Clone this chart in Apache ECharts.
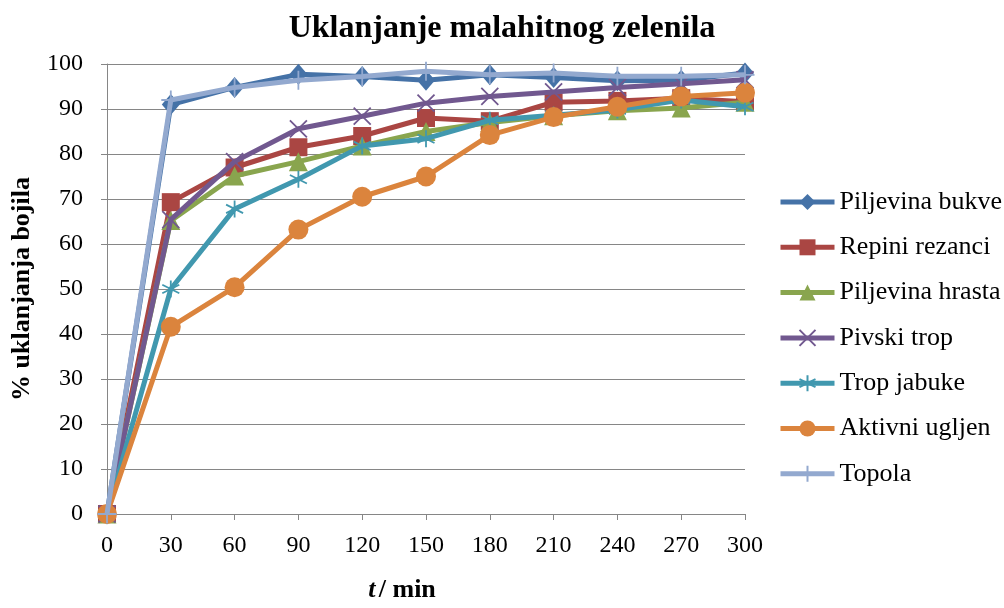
<!DOCTYPE html>
<html><head><meta charset="utf-8">
<script src="https://cdn.jsdelivr.net/npm/echarts@6/dist/echarts.min.js"></script>
<style>html,body{margin:0;padding:0;background:#fff}#c{width:1004px;height:608px}</style>
</head><body><div id="c"></div>
<script>
const times = [0, 30, 60, 90, 120, 150, 180, 210, 240, 270, 300];
const piljevinaBukve   = [0, 91.0, 94.8, 97.7, 97.2, 96.4, 97.6, 97.0, 96.3, 96.4, 98.0];
const repiniRezanci    = [0, 69.3, 77.0, 81.5, 84.0, 88.0, 87.3, 91.5, 91.8, 92.4, 91.6];
const piljevinaHrasta  = [0, 65.2, 75.1, 78.3, 81.8, 85.0, 87.0, 88.5, 89.6, 90.2, 91.5];
const pivskiTrop       = [0, 65.4, 78.3, 85.6, 88.4, 91.3, 92.8, 93.8, 94.8, 95.6, 96.5];
const tropJabuke       = [0, 50.0, 67.8, 74.4, 81.8, 83.4, 87.5, 88.6, 89.8, 92.0, 90.5];
const aktivniUgljen    = [0, 41.6, 50.4, 63.2, 70.5, 75.0, 84.2, 88.2, 90.5, 92.8, 93.6];
const topola           = [0, 92.0, 94.8, 96.4, 97.2, 98.4, 97.6, 98.0, 97.3, 97.3, 97.6];
const yTicks = [0, 10, 20, 30, 40, 50, 60, 70, 80, 90, 100];
const seriesNames = ['Piljevina bukve', 'Repini rezanci', 'Piljevina hrasta', 'Pivski trop', 'Trop jabuke', 'Aktivni ugljen', 'Topola'];

const FONT = '"Liberation Serif", "Times New Roman", serif';
const colors = ['#4572A7', '#AA4643', '#89A54E', '#71588F', '#4198AF', '#DB843D', '#93A9CF'];
const X_PATH = 'path://M0 0L10 10M10 0L0 10';
const STAR_PATH = 'path://M5 0L5 10M0 2.5L10 7.5M10 2.5L0 7.5';
const PLUS_PATH = 'path://M5 0L5 10M0 5L10 5';
const symbols = ['diamond', 'rect', 'triangle', X_PATH, STAR_PATH, 'circle', PLUS_PATH];
const sizes = [[18, 21], 18, 19, 17, 17, 20, 19];
const dataArr = [piljevinaBukve, repiniRezanci, piljevinaHrasta, pivskiTrop, tropJabuke, aktivniUgljen, topola];

const series = seriesNames.map((name, i) => {
  const stroked = i === 3 || i === 4 || i === 6;
  return {
    name,
    type: 'line',
    data: times.map((t, k) => [t, dataArr[i][k]]),
    symbol: symbols[i],
    symbolSize: sizes[i],
    showAllSymbol: true,
    lineStyle: { color: colors[i], width: 5 },
    itemStyle: stroked
      ? { color: 'rgba(0,0,0,0)', borderColor: colors[i], borderWidth: 1.8 }
      : { color: colors[i], borderWidth: 0 },
    emphasis: { disabled: true },
    animation: false,
    z: 2 + i
  };
});

const chart = echarts.init(document.getElementById('c'), null, { renderer: 'canvas' });
chart.setOption({
  backgroundColor: '#ffffff',
  animation: false,
  color: colors,
  title: {
    text: 'Uklanjanje malahitnog zelenila',
    left: 497, top: 8, textAlign: 'center',
    textStyle: { fontFamily: FONT, fontSize: 32, fontWeight: 'bold', color: '#000' }
  },
  grid: { left: 107, right: 259, top: 64, bottom: 88 },
  legend: {
    orient: 'vertical',
    left: 778, top: 189, padding: 0,
    itemWidth: 54, itemHeight: 20, itemGap: 19.3,
    lineStyle: { width: 5 },
    textStyle: { fontFamily: FONT, fontSize: 26, lineHeight: 26, color: '#000' },
    data: seriesNames
  },
  xAxis: {
    type: 'value', min: 0, max: 300, interval: 30,
    name: '{i|t} {b|/ min}',
    nameLocation: 'middle', nameGap: 63,
    nameTextStyle: {
      padding: [0, 48, 0, 0],
      rich: {
        i: { fontFamily: FONT, fontSize: 26, fontWeight: 'bold', fontStyle: 'italic', color: '#000' },
        b: { fontFamily: FONT, fontSize: 26, fontWeight: 'bold', color: '#000' }
      }
    },
    axisLine: { show: true, lineStyle: { color: '#868686', width: 1 } },
    axisTick: { show: true, length: 6, lineStyle: { color: '#868686' } },
    axisLabel: { fontFamily: FONT, fontSize: 24, color: '#000', margin: 20 },
    splitLine: { show: false }
  },
  yAxis: {
    type: 'value', min: 0, max: 100, interval: 10,
    name: '% uklanjanja bojila',
    nameLocation: 'middle', nameGap: 72,
    nameTextStyle: { fontFamily: FONT, fontSize: 26, fontWeight: 'bold', color: '#000' },
    axisLine: { show: true, lineStyle: { color: '#868686', width: 1 } },
    axisTick: { show: true, length: 6, lineStyle: { color: '#868686' } },
    axisLabel: { fontFamily: FONT, fontSize: 24, color: '#000', margin: 24,
      formatter: v => yTicks.includes(v) ? String(v) : '' },
    splitLine: { show: true, lineStyle: { color: '#868686', width: 1 } }
  },
  series
});
</script></body></html>
